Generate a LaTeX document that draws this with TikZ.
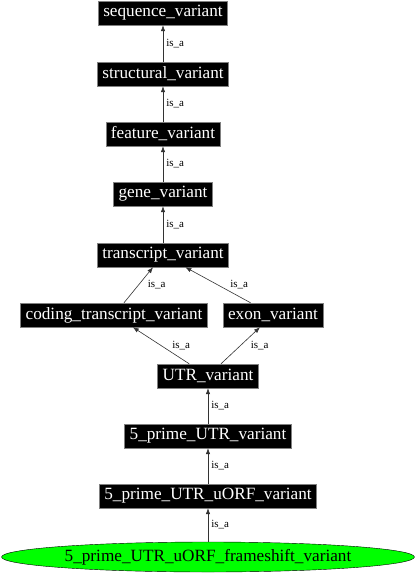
\documentclass[tikz,border=0pt]{standalone}
\usepackage{fontspec}
\setmainfont{Liberation Serif}
\usetikzlibrary{arrows.meta,shapes.geometric}

\begin{document}
\begin{tikzpicture}[x=1pt, y=-1pt,
    term/.style={rectangle, fill=black, draw=gray, text=white, font=\fontsize{17.2}{19}\selectfont,
      minimum height=24pt, inner xsep=5pt},
    leaf/.style={ellipse, fill=green, draw=black, font=\fontsize{17.2}{19}\selectfont,
      minimum width=413pt, minimum height=30pt, inner sep=0pt},
    isa/.style={draw=black!80, line width=0.6pt, -{Latex[length=6pt, width=4.5pt]}},
    lbl/.style={font=\fontsize{11}{13}\selectfont, inner sep=3pt}]
  \useasboundingbox (0,0) rectangle (417,576);

  % Draw the chain of terms
  \node[term] (seq) at (163,13) {sequence\_variant};
  \node[term] (struct) at (163,74) {structural\_variant};
  \node[term] (feat) at (163,134) {feature\_variant};
  \node[term] (gene) at (163,194) {gene\_variant};
  \node[term] (trans) at (163,255) {transcript\_variant};
  \node[term] (coding) at (114,315) {coding\_transcript\_variant};
  \node[term] (exon) at (273,315) {exon\_variant};
  \node[term] (utr) at (208,376) {UTR\_variant};
  \node[term] (five) at (208,436) {5\_prime\_UTR\_variant};
  \node[term] (uorf) at (208,496) {5\_prime\_UTR\_uORF\_variant};

  % The highlighted term at the bottom
  \node[leaf] (frame) at (208,557) {5\_prime\_UTR\_uORF\_frameshift\_variant};

  % is_a edges, child to parent
  \draw[isa] (struct) -- node[lbl, right] {is\_a} (seq);
  \draw[isa] (feat) -- node[lbl, right] {is\_a} (struct);
  \draw[isa] (gene) -- node[lbl, right] {is\_a} (feat);
  \draw[isa] (trans) -- node[lbl, right] {is\_a} (gene);
  \draw[isa] (coding) -- node[lbl, right, xshift=6pt] {is\_a} (trans);
  \draw[isa] (exon) -- node[lbl, right, xshift=9pt] {is\_a} (trans);
  \draw[isa] (utr) -- node[lbl, right, xshift=8pt] {is\_a} (coding);
  \draw[isa] (utr) -- node[lbl, right, xshift=7pt] {is\_a} (exon);
  \draw[isa] (five) -- node[lbl, right] {is\_a} (utr);
  \draw[isa] (uorf) -- node[lbl, right] {is\_a} (five);
  \draw[isa] (frame) -- node[lbl, right] {is\_a} (uorf);

\end{tikzpicture}
\end{document}
